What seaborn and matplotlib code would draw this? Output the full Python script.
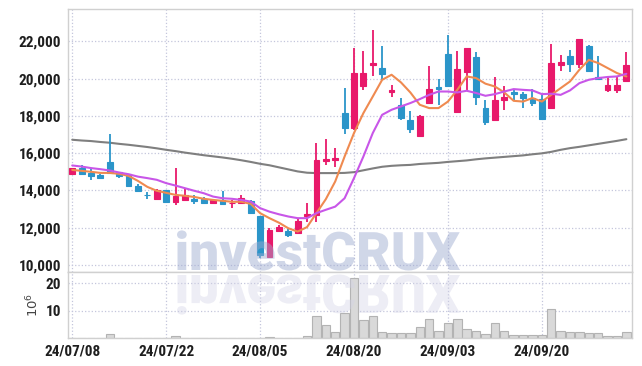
import numpy as np
import pandas as pd
import matplotlib
matplotlib.use("Agg")
import matplotlib.pyplot as plt
import seaborn as sns
from matplotlib.textpath import TextPath
from matplotlib.patches import PathPatch
from matplotlib.font_manager import FontProperties
from matplotlib.transforms import Affine2D

# daily candles, 60 trading days
tick_pos = [0, 10, 20, 30, 40, 50]
tick_labels = ["24/07/08", "24/07/22", "24/08/05", "24/08/20", "24/09/03", "24/09/20"]

open_ = [14870, 15190, 14920, 14840, 15520, 14980, 14870, 14260, 13760, 13560,
         14030, 13400, 13490, 13550, 13530, 13350, 13470, 13310, 13310, 13440,
         12630, 10410, 11810, 11830, 11740, 12600, 12690, 15590, 15610, 18150,
         17340, 19580, 20710, 20570, 19300, 18600, 17760, 16900, 18720, 19550,
         21340, 18190, 20350, 21160, 18420, 17760, 18830, 19300, 19170, 18960,
         18900, 18420, 20710, 21230, 20780, 21770, 20080, 19370, 19370, 19900]
high = [15230, 15340, 15230, 14870, 17020, 15010, 14900, 14370, 13940, 14070,
        14040, 15190, 14120, 13760, 13640, 13510, 13990, 13460, 13730, 13460,
        12650, 11970, 12150, 11920, 12470, 13310, 16540, 16750, 16270, 19490,
        21640, 21460, 22630, 21770, 19670, 18960, 18240, 18060, 20660, 19980,
        22360, 21460, 21640, 21430, 18870, 20080, 19620, 19440, 19260, 19440,
        19130, 21860, 21250, 21520, 22130, 21820, 21230, 20160, 20160, 21430]
low = [14830, 14870, 14570, 14650, 14920, 14660, 14240, 13990, 13530, 13530,
       13400, 13210, 13490, 13260, 13310, 13330, 13260, 13060, 13280, 12770,
       10360, 10410, 11760, 11490, 11740, 12330, 12330, 15370, 15280, 17020,
       17220, 19400, 20160, 19940, 18990, 17790, 17070, 16860, 18720, 18600,
       19550, 18190, 19400, 18600, 17490, 17760, 18330, 18870, 18420, 18510,
       17830, 18420, 20420, 20350, 20570, 20350, 19960, 19300, 19220, 19850]
close = [15190, 14870, 14750, 14690, 14960, 14800, 14260, 13990, 13730, 14010,
         13400, 13710, 13730, 13440, 13350, 13490, 13260, 13350, 13580, 12780,
         10540, 11880, 12060, 11610, 12360, 12740, 15640, 15700, 15730, 17340,
         20330, 20330, 20840, 20240, 19400, 17880, 17290, 17970, 19440, 19440,
         19580, 20530, 21640, 19010, 17700, 18870, 19010, 19150, 18940, 18670,
         17830, 20840, 20910, 20780, 22130, 20390, 19960, 19650, 19650, 20730]

# moving averages as drawn on the chart
ma5 = [15100, 15050, 15000, 14940, 14940, 14890, 14780, 14510, 14190, 13980,
       13870, 13760, 13710, 13650, 13550, 13490, 13440, 13390, 13390, 13280,
       12780, 12510, 12270, 11970, 11790, 12030, 12780, 13530, 14480, 15820,
       17080, 18150, 19040, 19940, 20210, 19800, 19260, 18600, 18420, 18420,
       18770, 19400, 20120, 20030, 19730, 19580, 19260, 18810, 18770, 18960,
       18770, 19130, 19490, 19850, 20480, 21010, 20840, 20570, 20300, 20120]
ma20 = [15340, 15280, 15200, 15140, 15070, 14960, 14870, 14740, 14660, 14570,
        14390, 14260, 14120, 13980, 13850, 13670, 13580, 13550, 13490, 13400,
        13050, 12860, 12720, 12600, 12510, 12510, 12780, 12960, 13130, 13580,
        14660, 15820, 17080, 18060, 18330, 18510, 18690, 18900, 19130, 19310,
        19310, 19260, 19350, 19230, 19080, 19170, 19310, 19440, 19400, 19370,
        19170, 19190, 19130, 19370, 19760, 19940, 20030, 20090, 20120, 20260]
ma60 = [16720, 16680, 16650, 16600, 16560, 16500, 16450, 16390, 16330, 16260,
        16180, 16110, 16030, 15960, 15890, 15830, 15770, 15700, 15620, 15530,
        15430, 15350, 15240, 15130, 15020, 14950, 14930, 14930, 14930, 14940,
        14980, 15080, 15180, 15270, 15320, 15350, 15370, 15420, 15450, 15480,
        15530, 15570, 15610, 15670, 15720, 15760, 15800, 15840, 15880, 15940,
        15990, 16070, 16180, 16270, 16340, 16420, 16500, 16580, 16660, 16750]

# volume in millions
volume = [0.1, 0.1, 0.1, 0.1, 1.4, 0.1, 0.1, 0.1, 0.1, 0.1,
          0.1, 0.6, 0.1, 0.1, 0.1, 0.1, 0.1, 0.1, 0.1, 0.1,
          0.1, 0.5, 0.1, 0.1, 0.1, 0.6, 8.1, 4.8, 2.2, 9.0,
          21.8, 6.6, 8.1, 2.2, 1.7, 1.7, 1.7, 3.9, 6.9, 2.5,
          5.4, 6.9, 3.2, 2.7, 1.4, 5.4, 2.5, 1.0, 1.0, 1.0,
          1.0, 10.5, 2.5, 2.2, 2.2, 1.7, 1.7, 0.6, 0.6, 2.2]

UP = "#e8196a"
DOWN = "#2b95c9"
GRID = "#c4c6dc"
SPINE = "#d0d0d0"

df = pd.DataFrame({"i": np.arange(len(close)), "open": open_, "high": high,
                   "low": low, "close": close, "ma5": ma5, "ma20": ma20,
                   "ma60": ma60, "vol": volume})

sns.set_style("white")
plt.rcParams["font.family"] = ["Roboto Condensed", "Roboto", "DejaVu Sans"]

fig = plt.figure(figsize=(6.42, 3.66), dpi=100)
ax = fig.add_axes([68 / 642, 94 / 366, 564 / 642, 263 / 366])
axv = fig.add_axes([68 / 642, 28 / 366, 564 / 642, 66 / 366])

# price panel
colors = np.where(df["close"] >= df["open"], UP, DOWN)
sns.lineplot(data=df, x="i", y="ma60", ax=ax, color="#7f7f7f", lw=1.5, zorder=2)
ax.vlines(df["i"], df["low"], df["high"], colors=colors, lw=1.3, zorder=3)
body_lo = np.minimum(df["open"], df["close"])
body_h = np.maximum((df["close"] - df["open"]).abs(), 25)
ax.bar(df["i"], body_h, bottom=body_lo, width=0.62, color=colors,
       edgecolor=colors, lw=0.8, zorder=4)
sns.lineplot(data=df, x="i", y="ma5", ax=ax, color="#ef8a50", lw=1.5, zorder=5)
sns.lineplot(data=df, x="i", y="ma20", ax=ax, color="#c856e8", lw=1.5, zorder=5)

ax.set_xlim(-0.45, 59.6)
ax.set_ylim(9620, 23740)
ax.set_yticks(range(10000, 22001, 2000))
ax.set_yticklabels([f"{v:,}" for v in range(10000, 22001, 2000)])
ax.set_xticks(tick_pos)
ax.set_xticklabels([])
ax.set_xlabel("")
ax.set_ylabel("")

# volume panel
sns.barplot(data=df, x="i", y="vol", ax=axv, color="#d9d9d9", saturation=1,
            edgecolor="#b3b3b3", linewidth=0.8, width=0.9, zorder=2)
axv.set_xlim(-0.45, 59.6)
axv.set_ylim(0, 24.1)
axv.set_yticks([10, 20])
axv.set_yticklabels(["10", "20"])
axv.set_xticks(tick_pos)
axv.set_xticklabels(tick_labels)
axv.set_xlabel("")
axv.set_ylabel("$10^6$", fontsize=9.5, color="#444444", labelpad=3,
               fontfamily="DejaVu Sans")

for a in (ax, axv):
    a.grid(True, ls=":", color=GRID, lw=0.9, zorder=0)
    a.set_axisbelow(True)
    a.tick_params(length=0, pad=5, labelsize=11, labelcolor="#1e1e1e")
    for lab in a.get_xticklabels() + a.get_yticklabels():
        lab.set_fontweight("bold")
    for s in a.spines.values():
        s.set_color(SPINE)
        s.set_linewidth(1)

# watermark with reflection
fp = FontProperties(family="Roboto", weight=900)
tp = TextPath((0, 0), "investCRUX", size=50, prop=fp)
bb = tp.get_extents()
sc = 283 / bb.width
tr = Affine2D().translate(-bb.x0, 0).scale(sc, sc).translate(177, 366 - 270)
fig.add_artist(PathPatch(tp, transform=tr, facecolor="#9daad0", lw=0,
                         alpha=0.47, zorder=10))
tr2 = Affine2D().translate(-bb.x0, 0).scale(sc, -sc).translate(177, 366 - 275)
fig.add_artist(PathPatch(tp, transform=tr2, facecolor="#d2d2e6", lw=0,
                         alpha=0.4, zorder=10))

fig.savefig("out.png", dpi=100)
